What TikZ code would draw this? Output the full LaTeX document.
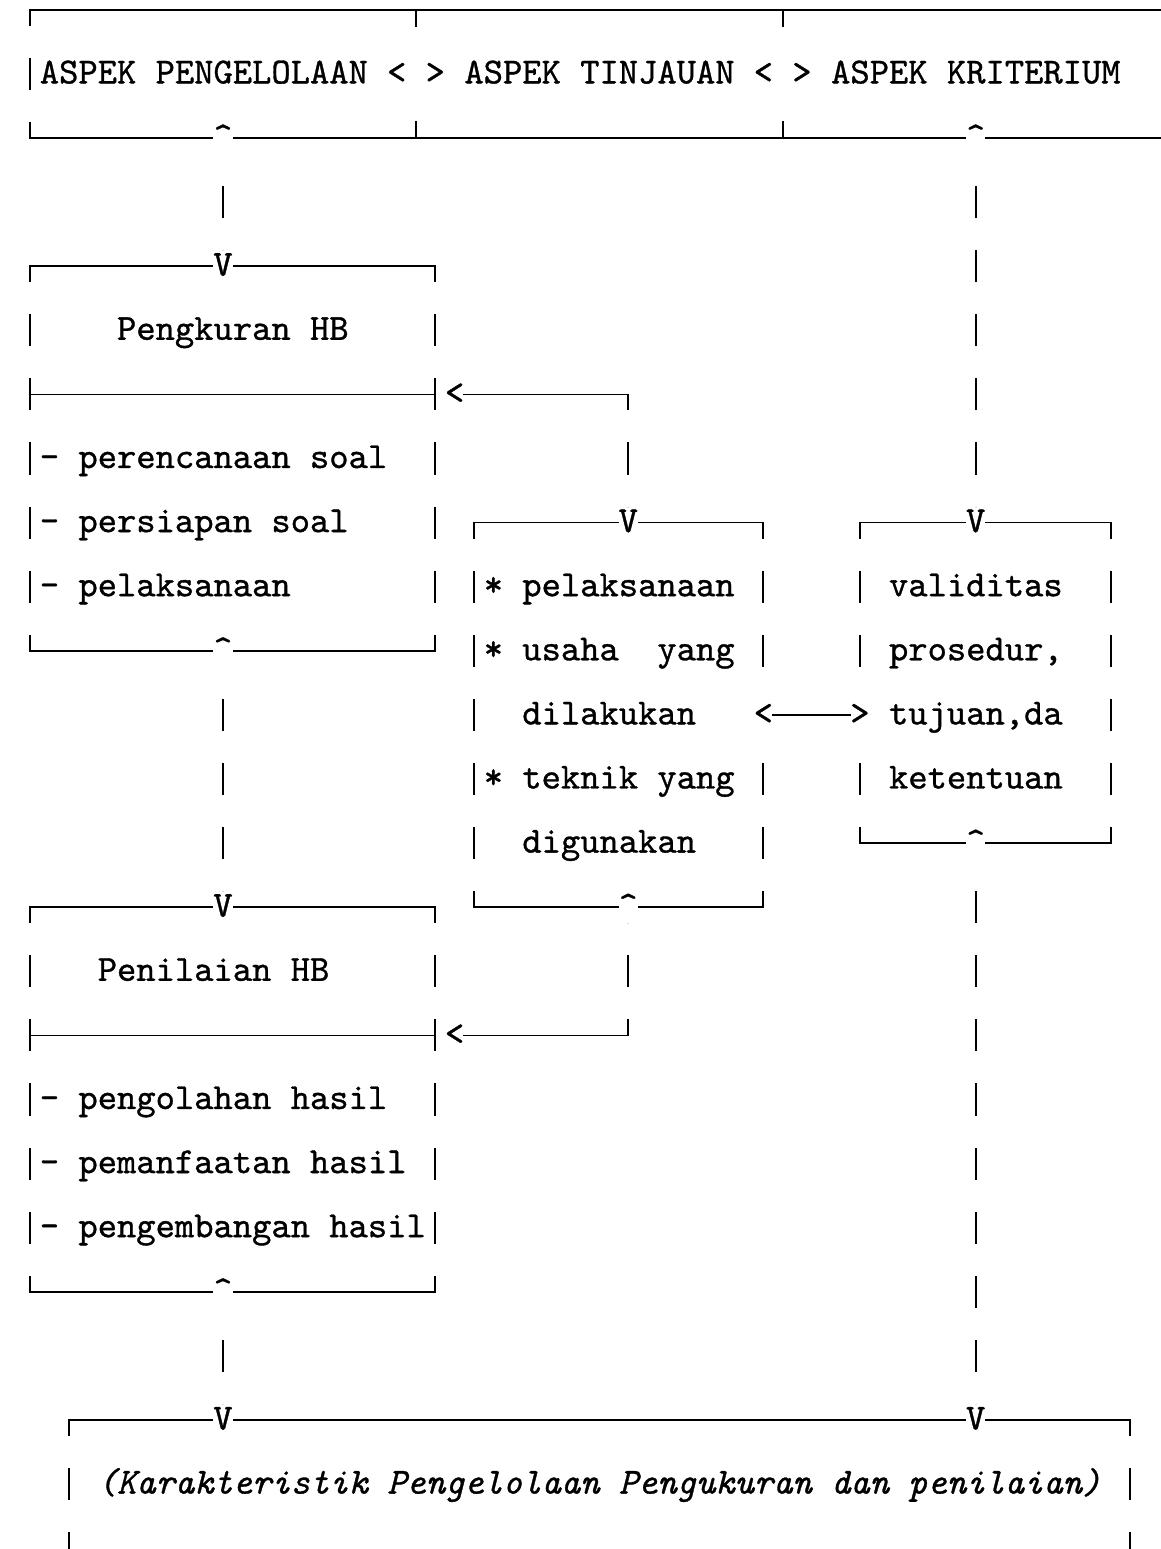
\documentclass[tikz,border=0pt]{standalone}
\usepackage{fontspec}
\usepackage{tikz}
\newfontfamily\tyface{lmmono10-regular.otf}[FakeBold=0.9, ItalicFont=lmmono10-italic.otf, ItalicFeatures={FakeBold=0.9}]
\newcommand{\tyfont}{\tyface\fontsize{36.76pt}{44pt}\selectfont}

\begin{document}
\begin{tikzpicture}[x=19.3pt, y=-64.1pt,
        boxline/.style={line width=1.7pt, line cap=rect},
        boxside/.style={line width=1.9pt, dash pattern=on 32.05pt off 32.05pt, dash phase=16.025pt},
        wire/.style={line width=1.9pt, dash pattern=on 32.05pt off 32.05pt, dash phase=32.05pt},
        ch/.style={font=\tyfont, fill=white, inner sep=0pt, outer sep=0pt, minimum width=19.3pt,
            minimum height=32.05pt, text height=19pt, text depth=0pt},
        txt/.style={font=\tyfont, anchor=west, inner sep=0pt, text height=19pt, text depth=0pt}]
        \useasboundingbox (-1.554,-1.153) rectangle (58.6,23.013);

        % Draw header frame
        \draw[boxline] (0,-1) -- (59,-1);
        \draw[boxline] (0,1) -- (59,1);
        \draw[boxside] (0,-1) -- (0,1);
        \foreach \c in {20,39} {
            \draw[boxline] (\c,-1) -- ++(0,0.25); % tee on top
            \draw[boxline] (\c,1) -- ++(0,-0.25); % tee below
        }

        % Draw boxes
        \draw[boxline] (0,3) -- (21,3) (0,5) -- (21,5) (0,9) -- (21,9);
        \draw[boxside] (0,3) -- (0,9) (21,3) -- (21,9);
        \draw[boxline] (23,7) -- (38,7) (23,13) -- (38,13);
        \draw[boxside] (23,7) -- (23,13) (38,7) -- (38,13);
        \draw[boxline] (43,7) -- (56,7) (43,12) -- (56,12);
        \draw[boxside] (43,7) -- (43,12) (56,7) -- (56,12);
        \draw[boxline] (0,13) -- (21,13) (0,15) -- (21,15) (0,19) -- (21,19);
        \draw[boxside] (0,13) -- (0,19) (21,13) -- (21,19);
        \draw[boxline] (2,21) -- (57,21);
        \draw[boxside] (2,21) -- (2,23.6) (57,21) -- (57,23.6);

        % Draw arrow characters
        \node[ch] (hdLtA) at (19,0) {<};
        \node[ch] (hdGtA) at (21,0) {>};
        \node[ch] (hdLtB) at (38,0) {<};
        \node[ch] (hdGtB) at (40,0) {>};
        \node[ch] (hdUpL) at (10,1) {\textasciicircum};
        \node[ch] (hdUpR) at (49,1) {\textasciicircum};
        \node[ch] (pkV) at (10,3) {V};
        \node[ch] (pkIn) at (22,5) {<};
        \node[ch] (pkUp) at (10,9) {\textasciicircum};
        \node[ch] (miV) at (31,7) {V};
        \node[ch] (miOut) at (38,10) {<};
        \node[ch] (miUp) at (31,13) {\textasciicircum};
        \node[ch] (krV) at (49,7) {V};
        \node[ch] (krIn) at (43,10) {>};
        \node[ch] (krUp) at (49,12) {\textasciicircum};
        \node[ch] (pnV) at (10,13) {V};
        \node[ch] (pnIn) at (22,15) {<};
        \node[ch] (pnUp) at (10,19) {\textasciicircum};
        \node[ch] (btVL) at (10,21) {V};
        \node[ch] (btVR) at (49,21) {V};

        % Draw texts
        \node[txt] (hdA) at (0.5,0) {ASPEK PENGELOLAAN};
        \node[txt] (hdB) at (22.5,0) {ASPEK TINJAUAN};
        \node[txt] (hdC) at (41.5,0) {ASPEK KRITERIUM};
        \node[txt] (pkT) at (4.5,4) {Pengkuran HB};
        \foreach \t [count=\r from 6] in {perencanaan soal, persiapan soal, pelaksanaan}
            \node[txt] (pk\r) at (0.5,\r) {- \t};
        \node[txt] (mi8) at (23.5,8) {* pelaksanaan};
        \node[txt] (mi9) at (23.5,9) {* usaha\ \ yang};
        \node[txt] (mi10) at (25.5,10) {dilakukan};
        \node[txt] (mi11) at (23.5,11) {* teknik yang};
        \node[txt] (mi12) at (25.5,12) {digunakan};
        \foreach \t [count=\r from 8] in {validitas, {prosedur,}, {tujuan,da}, ketentuan}
            \node[txt] (kr\r) at (44.5,\r) {\t};
        \node[txt] (pnT) at (3.5,14) {Penilaian HB};
        \foreach \t [count=\r from 16] in {pengolahan hasil, pemanfaatan hasil, pengembangan hasil}
            \node[txt] (pn\r) at (0.5,\r) {- \t};
        \node[txt, font=\tyfont\itshape] (btT) at (3.5,22) {(Karakteristik Pengelolaan Pengukuran dan penilaian)};

        % Draw connectors
        \draw[wire] (hdUpL.south) -- (pkV.north);
        \draw[wire] (hdUpR.south) -- (krV.north);
        \draw[wire] (pkUp.south) -- (pnV.north);
        \draw[wire] (pnUp.south) -- (btVL.north);
        \draw[wire] (krUp.south) -- (btVR.north);
        \draw[boxline] (pkIn.east) -- (pkIn -| miV);
        \draw[boxside] (pkIn -| miV) -- (miV.north);
        \draw[boxline] (pnIn.east) -- (pnIn -| miUp);
        \draw[boxside] (pnIn -| miUp) -- (miUp.south);
        \draw[boxline] (miOut.east) -- (krIn.west);
    \end{tikzpicture}
\end{document}
